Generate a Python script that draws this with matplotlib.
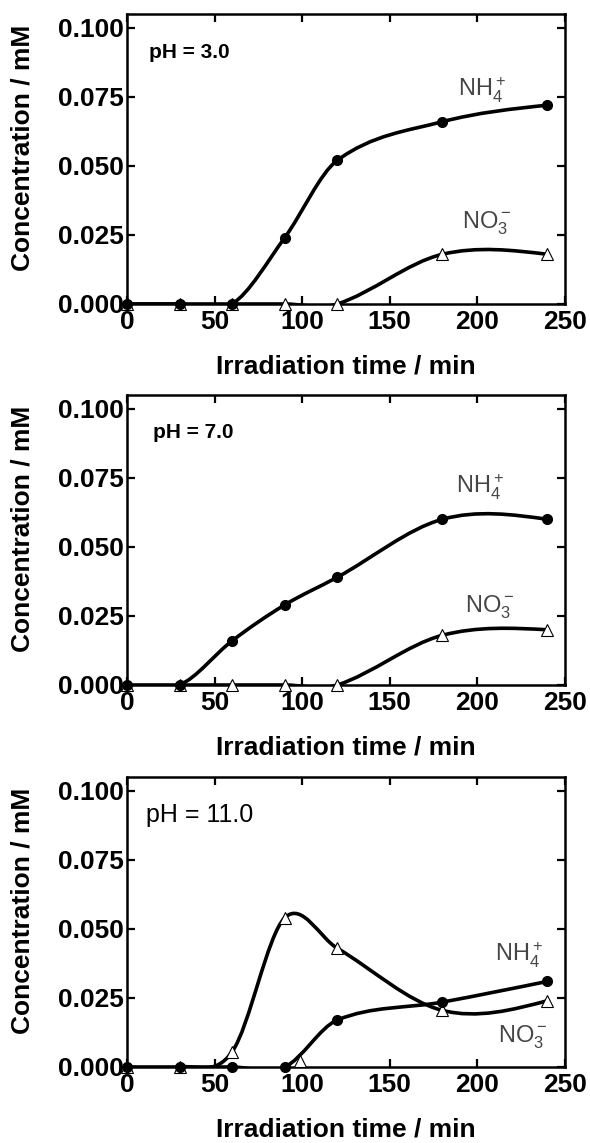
import numpy as np
import matplotlib
matplotlib.use('Agg')
import matplotlib.pyplot as plt
from matplotlib.path import Path
from matplotlib.patches import PathPatch

plt.rcParams['font.family'] = ['Liberation Sans', 'DejaVu Sans']
plt.rcParams['mathtext.fontset'] = 'custom'
plt.rcParams['mathtext.rm'] = 'Liberation Sans'
plt.rcParams['mathtext.it'] = 'Liberation Sans:italic'
plt.rcParams['mathtext.bf'] = 'Liberation Sans:bold'

# -------------------- Data ----------------------- #
time = [0, 30, 60, 90, 120, 180, 240]

nh4_ph3 = [0.0, 0.0, 0.0, 0.024, 0.052, 0.066, 0.072]
no3_ph3 = [0.0, 0.0, 0.0, 0.0, 0.0, 0.018, 0.018]

nh4_ph7 = [0.0, 0.0, 0.016, 0.029, 0.039, 0.060, 0.060]
no3_ph7 = [0.0, 0.0, 0.0, 0.0, 0.0, 0.018, 0.020]

nh4_ph11 = [0.0, 0.0, 0.0, 0.0, 0.017, 0.0235, 0.031]
no3_ph11 = [0.0, 0.0, 0.0055, 0.054, 0.043, 0.0205, 0.024]
# stray open marker near the baseline in the pH 11 panel
extra_ph11_x = [99]
extra_ph11_y = [0.002]

panels = ['pH = 3.0', 'pH = 7.0', 'pH = 11.0']
xticks = [0, 50, 100, 150, 200, 250]
xticklabels = ['0', '50', '100', '150', '200', '250']
yticks = [0.0, 0.025, 0.05, 0.075, 0.1]
yticklabels = ['0.000', '0.025', '0.050', '0.075', '0.100']


def smooth_path(x, y):
    # cubic Bezier path through the measured points (Catmull-Rom style tangents)
    x = np.asarray(x, float)
    y = np.asarray(y, float)
    n = len(x)
    m = np.empty(n)
    m[1:-1] = (y[2:] - y[:-2]) / (x[2:] - x[:-2])
    s0 = (y[1] - y[0]) / (x[1] - x[0])
    s1 = (y[-1] - y[-2]) / (x[-1] - x[-2])
    m[0] = (3 * s0 - m[1]) / 2
    m[-1] = (3 * s1 - m[-2]) / 2
    verts = [(x[0], y[0])]
    codes = [Path.MOVETO]
    for i in range(n - 1):
        h = x[i + 1] - x[i]
        verts += [(x[i] + h / 3, y[i] + m[i] * h / 3),
                  (x[i + 1] - h / 3, y[i + 1] - m[i + 1] * h / 3),
                  (x[i + 1], y[i + 1])]
        codes += [Path.CURVE4] * 3
    return Path(verts, codes)


fig = plt.figure(figsize=(5.9, 11.43), dpi=100)

W, H = 590, 1143
ax_left, ax_w, ax_h = 127 / W, 438 / W, 290 / H
bottoms = [1 - 304 / H, 1 - 685 / H, 1 - 1067 / H]

series = [(nh4_ph3, no3_ph3), (nh4_ph7, no3_ph7), (nh4_ph11, no3_ph11)]
ph_pos = [(12.6, 0.0909, 'bold', 15), (14.8, 0.0916, 'bold', 15), (10.8, 0.0913, 'normal', 18)]
nh4_pos = [(189, 0.0775), (188, 0.0716), (210, 0.0406)]
no3_pos = [(191, 0.0293), (193, 0.0283), (212, 0.0107)]

for k in range(3):
    ax = fig.add_axes([ax_left, bottoms[k], ax_w, ax_h])
    nh4, no3 = series[k]

    for yy in (nh4, no3):
        ax.add_patch(PathPatch(smooth_path(time, yy), fill=False, lw=2.6,
                               edgecolor='black', capstyle='round', zorder=3))

    ax.plot(time, no3, linestyle='none', marker='^', markersize=8,
            markerfacecolor='white', markeredgecolor='black', mew=0.8,
            clip_on=False, zorder=5)
    ax.plot(time, nh4, linestyle='none', marker='o', markersize=7,
            color='black', clip_on=False, zorder=6)
    if k == 2:
        ax.plot(extra_ph11_x, extra_ph11_y, linestyle='none', marker='^', markersize=8,
                markerfacecolor='white', markeredgecolor='black', mew=0.8,
                clip_on=False, zorder=5)

    ax.set_xlim(0, 250)
    ax.set_ylim(0, 0.105)
    ax.set_xticks(xticks)
    ax.set_xticklabels(xticklabels, fontweight='bold')
    ax.set_yticks(yticks)
    ax.set_yticklabels(yticklabels, fontweight='bold')
    ax.tick_params(direction='in', length=6, width=1.6, top=True, right=True,
                   labelsize=19, pad=2)
    ax.tick_params(axis='x', pad=4)
    for sp in ax.spines.values():
        sp.set_linewidth(1.8)

    ax.set_xlabel('Irradiation time / min', fontsize=19, fontweight='bold', va='center')
    ax.xaxis.set_label_coords(0.5, -0.215)
    ax.set_ylabel('Concentration / mM', fontsize=19, fontweight='bold', va='center')
    ax.yaxis.set_label_coords(-0.238, 0.54)

    px, py, pw, ps = ph_pos[k]
    ax.text(px, py, panels[k], fontsize=ps, fontweight=pw, ha='left', va='center')
    ax.text(nh4_pos[k][0], nh4_pos[k][1], r'NH$\mathregular{_4^+}$', fontsize=17,
            color='#454545', ha='left', va='center')
    ax.text(no3_pos[k][0], no3_pos[k][1], r'NO$\mathregular{_3^-}$', fontsize=17,
            color='#454545', ha='left', va='center')

fig.savefig('out.png', dpi=100)
